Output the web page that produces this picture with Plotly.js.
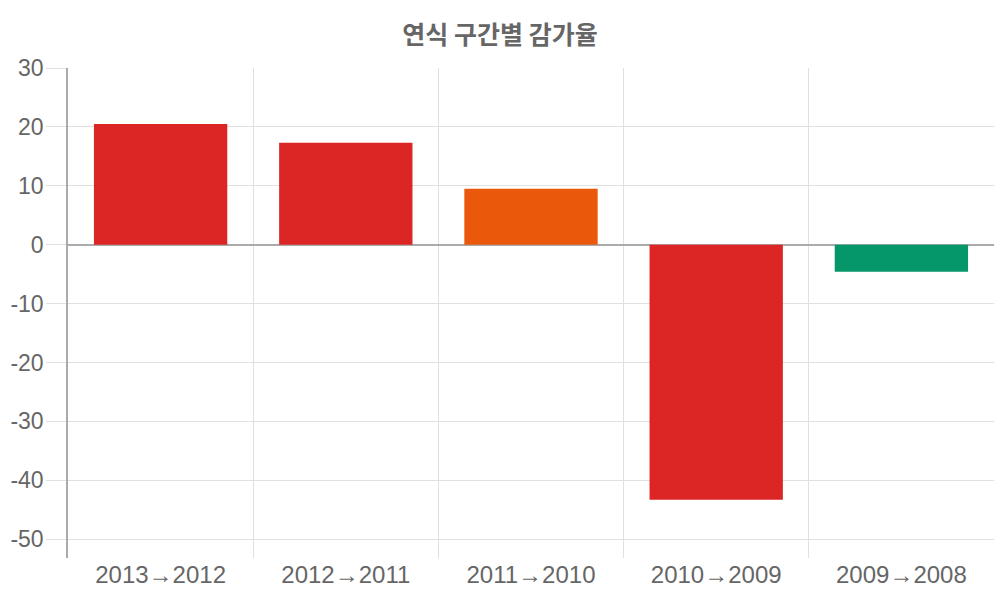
<!DOCTYPE html>
<html>
<head>
<meta charset="utf-8">
<script src="https://cdn.plot.ly/plotly-3.0.1.min.js"></script>
<style>html,body{margin:0;padding:0;background:#fff;}#chart{width:1000px;height:600px;}</style>
</head>
<body>
<div id="chart"></div>
<script>
const categories = ["2013→2012", "2012→2011", "2011→2010", "2010→2009", "2009→2008"];
const rates = [20.5, 17.3, 9.5, -43.3, -4.6];
const barColors = ["#dc2626", "#dc2626", "#ea580c", "#dc2626", "#059669"];
const yTickVals = [-50, -40, -30, -20, -10, 0, 10, 20, 30];
const yTickText = ["-50", "-40", "-30", "-20", "-10", "0", "10", "20", "30"];
const titleText = "연식 구간별 감가율";

const font = "Liberation Sans, Arial, sans-serif";
Plotly.newPlot("chart", [{
  type: "bar",
  x: categories,
  y: rates,
  marker: {color: barColors, line: {width: 0}},
  width: 0.72,
  hoverinfo: "x+y"
}], {
  width: 1000, height: 600,
  margin: {l: 68, r: 6, t: 68, b: 42, pad: 0},
  paper_bgcolor: "#fff", plot_bgcolor: "#fff",
  title: {text: "<b>" + titleText + "</b>", x: 0.5, xanchor: "center", y: 0.942, yanchor: "middle",
    font: {family: "Noto Sans CJK KR, sans-serif", size: 25, color: "#666"}},
  xaxis: {
    type: "category", tickson: "boundaries", range: [-0.5, 4.5],
    showgrid: true, gridcolor: "#e0e0e0", gridwidth: 1,
    ticks: "", showline: false, zeroline: false,
    tickfont: {family: font, size: 24, color: "#666"}
  },
  yaxis: {
    range: [-53.2, 30], tickvals: yTickVals, ticktext: yTickText,
    showgrid: true, gridcolor: "#e0e0e0", gridwidth: 1,
    ticks: "outside", ticklen: 20, tickcolor: "#e0e0e0", tickwidth: 1,
    ticklabelstandoff: -2,
    showline: true, linecolor: "#aaa", linewidth: 1.5,
    zeroline: true, zerolinecolor: "#aaa", zerolinewidth: 1.5,
    tickfont: {family: font, size: 23, color: "#666"}
  },
  showlegend: false
}, {displayModeBar: false});
</script>
</body>
</html>
